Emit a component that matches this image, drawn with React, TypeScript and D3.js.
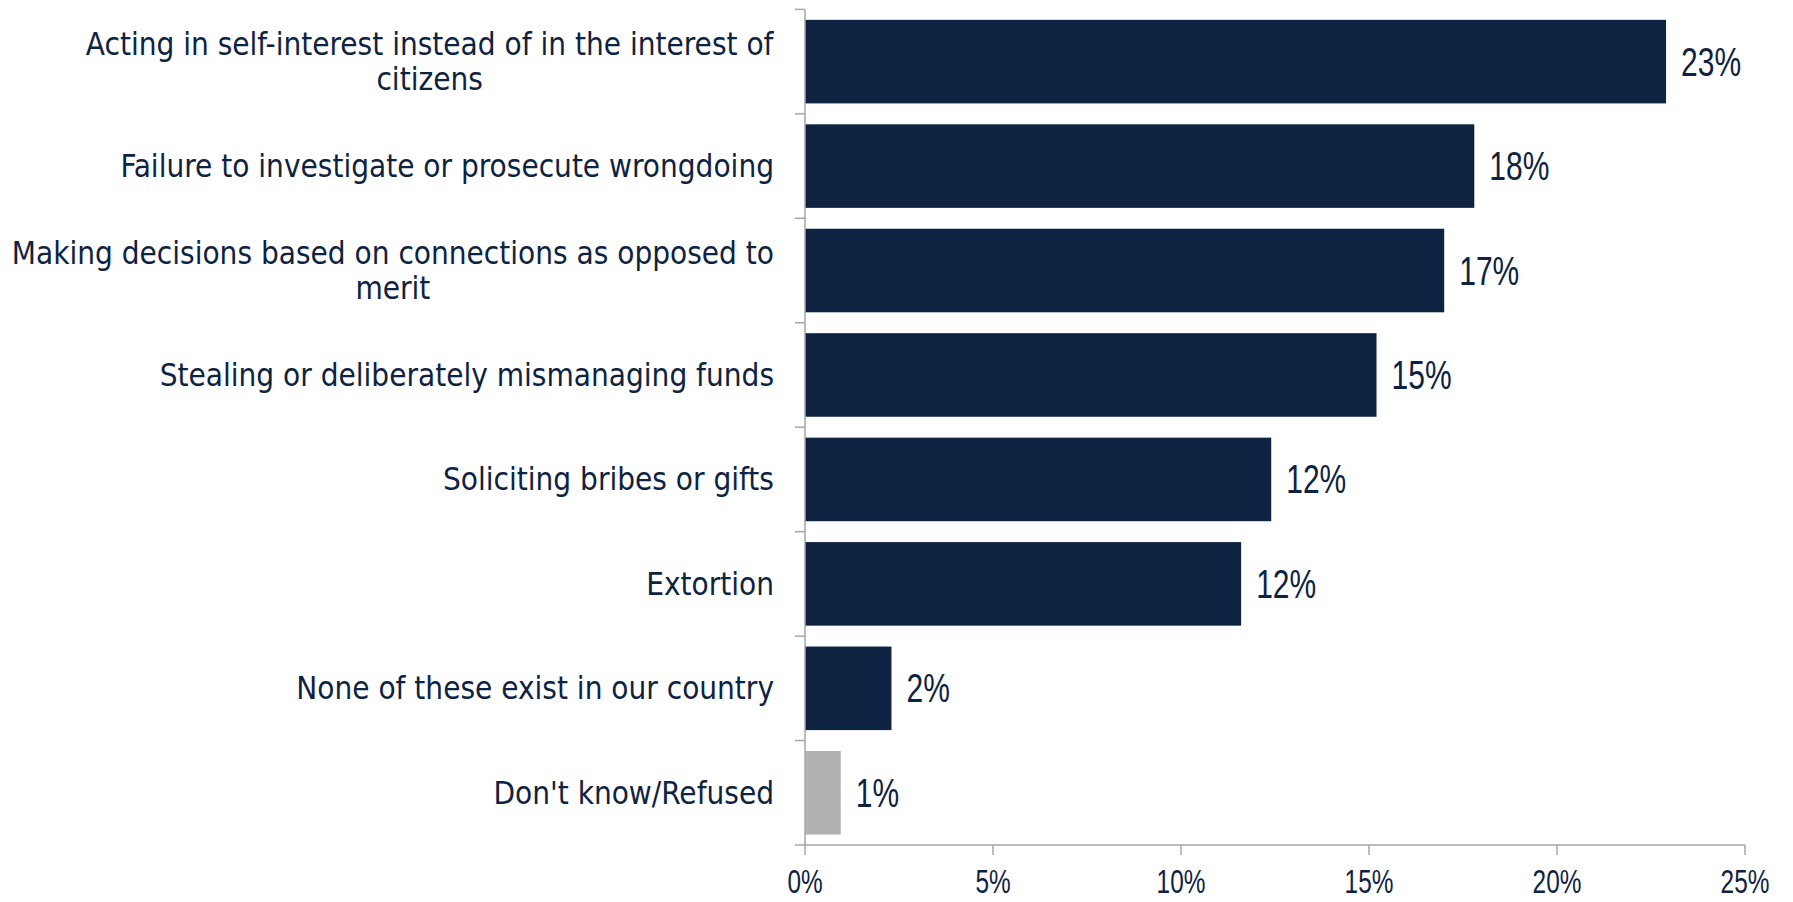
import { useLayoutEffect, useRef, useState } from 'react';
import { scaleBand, scaleLinear } from 'd3';

// Horizontal bar chart, rendered as plain SVG via JSX; d3 only computes scales.
// Wrapped category labels are centred as a block whose right edge sits by the axis.

const categories = [
  'Acting in self-interest instead of in the interest of\ncitizens',
  'Failure to investigate or prosecute wrongdoing',
  'Making decisions based on connections as opposed to\nmerit',
  'Stealing or deliberately mismanaging funds',
  'Soliciting bribes or gifts',
  'Extortion',
  'None of these exist in our country',
  "Don't know/Refused",
];
const values = [22.9, 17.8, 17.0, 15.2, 12.4, 11.6, 2.3, 0.95];
const muted = [false, false, false, false, false, false, false, true];
const xTicks = [0, 5, 10, 15, 20, 25];

const W = 1793;
const H = 902;
const INK = '#0e2341';
const GRAY = '#b1b1b1';
const AXIS = '#a6a6a6';
const LABEL_FONT = '"DejaVu Sans Condensed", "DejaVu Sans", sans-serif';
const NUM_FONT = '"Liberation Sans", Arial, sans-serif';
const LABEL_RIGHT = 774;

export default function App() {
  const x = scaleLinear().domain([0, 25]).range([805, 1745]);
  const y = scaleBand<string>().domain(categories).range([9.4, 845]).paddingInner(0.2).paddingOuter(0.1);
  const step = y.step();
  const x0 = x(0);
  const yBottom = 845;

  const labelRefs = useRef<(SVGTextElement | null)[]>([]);
  const [widths, setWidths] = useState<number[]>([]);
  useLayoutEffect(() => {
    setWidths(labelRefs.current.map((el) => (el ? el.getBBox().width : 0)));
  }, []);

  return (
    <svg width={W} height={H} viewBox={`0 0 ${W} ${H}`} style={{ position: 'absolute', left: 0, top: 0, background: '#fff' }}>
      {/* bars */}
      {categories.map((c, i) => (
        <rect key={c} x={x0} y={y(c)} width={x(values[i]) - x0} height={y.bandwidth()} fill={muted[i] ? GRAY : INK} />
      ))}

      {/* value labels */}
      {categories.map((c, i) => {
        const cy = (y(c) ?? 0) + y.bandwidth() / 2;
        return (
          <text
            key={c}
            transform={`translate(${x(values[i]) + 15},${cy + 14}) scale(0.75,1)`}
            fill={INK}
            style={{ fontFamily: NUM_FONT, fontSize: 40 }}
          >
            {Math.round(values[i])}%
          </text>
        );
      })}

      {/* category labels */}
      {categories.map((c, i) => {
        const lines = c.split('\n');
        const cy = (y(c) ?? 0) + y.bandwidth() / 2;
        const lh = 35;
        const first = cy - ((lines.length - 1) * lh) / 2 + 11;
        const cx = LABEL_RIGHT - (widths[i] ?? 0) / 2;
        return (
          <text
            key={c}
            ref={(el) => {
              labelRefs.current[i] = el;
            }}
            textAnchor="middle"
            fill={INK}
            style={{ fontFamily: LABEL_FONT, fontStretch: 'condensed', fontSize: 31.2 }}
          >
            {lines.map((l, j) => (
              <tspan key={j} x={cx} y={first + j * lh}>
                {l}
              </tspan>
            ))}
          </text>
        );
      })}

      {/* y axis */}
      <line x1={x0} x2={x0} y1={9.4} y2={yBottom} stroke={AXIS} strokeWidth={1.5} />
      {categories.map((c) => (
        <line key={c} x1={x0 - 10} x2={x0} y1={(y(c) ?? 0) - step * 0.1} y2={(y(c) ?? 0) - step * 0.1} stroke={AXIS} strokeWidth={1.5} />
      ))}
      <line x1={x0 - 10} x2={x0} y1={yBottom} y2={yBottom} stroke={AXIS} strokeWidth={1.5} />

      {/* x axis */}
      <line x1={x0} x2={x(25)} y1={yBottom} y2={yBottom} stroke={AXIS} strokeWidth={1.5} />
      {xTicks.map((t) => (
        <g key={t}>
          <line x1={x(t)} x2={x(t)} y1={yBottom} y2={yBottom + 10} stroke={AXIS} strokeWidth={1.5} />
          <text transform={`translate(${x(t)},893) scale(0.75,1)`} textAnchor="middle" fill={INK} style={{ fontFamily: NUM_FONT, fontSize: 32.5 }}>
            {t}%
          </text>
        </g>
      ))}
    </svg>
  );
}
